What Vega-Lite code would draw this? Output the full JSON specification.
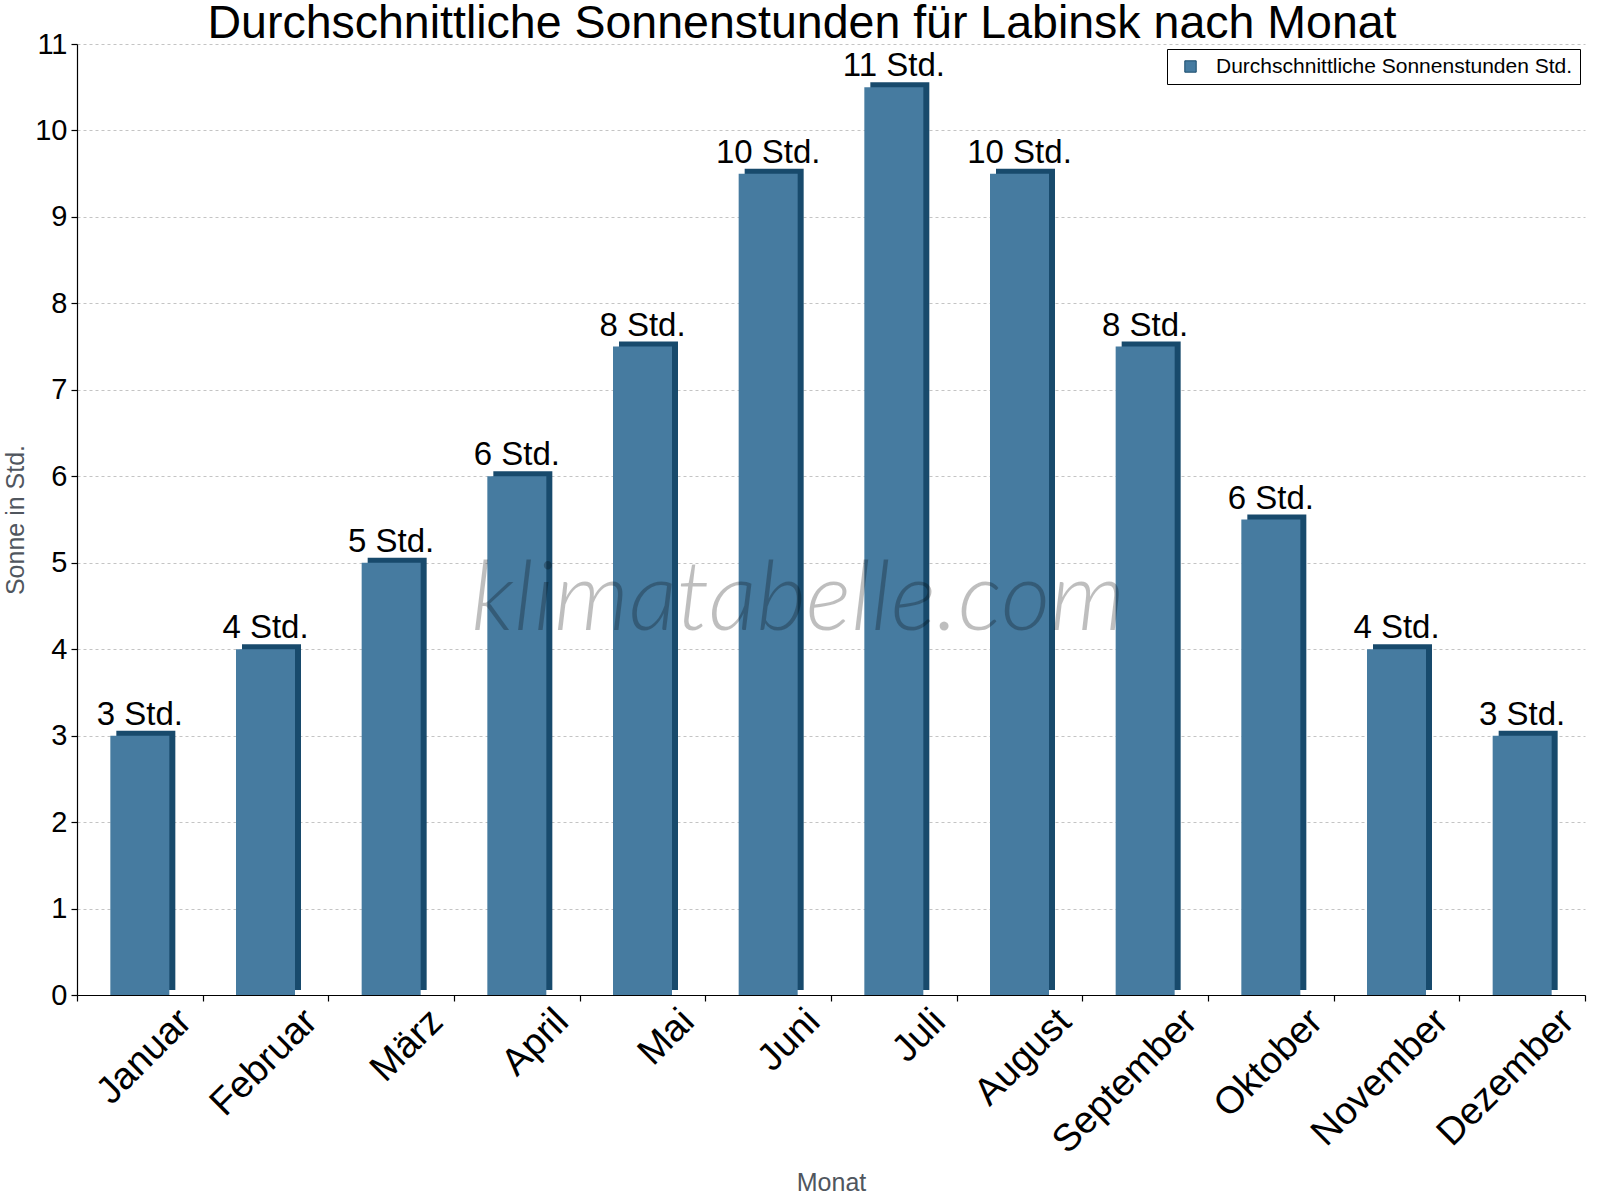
{
  "$schema": "https://vega.github.io/schema/vega-lite/v6.json",
  "autosize": "none",
  "padding": {"left": 77, "top": 44, "right": 15, "bottom": 205},
  "width": 1508,
  "height": 951,
  "background": "#ffffff",
  "config": {
    "font": "Liberation Sans",
    "view": {"stroke": null}
  },
  "title": {
    "text": "Durchschnittliche Sonnenstunden für Labinsk nach Monat",
    "fontSize": 46.5,
    "fontWeight": "normal",
    "color": "#000000",
    "anchor": "middle",
    "baseline": "bottom",
    "offset": -64,
    "dx": -29
  },
  "data": {
    "values": [
      {"monat": "Januar", "sonne": 3, "label": "3 Std."},
      {"monat": "Februar", "sonne": 4, "label": "4 Std."},
      {"monat": "März", "sonne": 5, "label": "5 Std."},
      {"monat": "April", "sonne": 6, "label": "6 Std."},
      {"monat": "Mai", "sonne": 7.5, "label": "8 Std."},
      {"monat": "Juni", "sonne": 9.5, "label": "10 Std."},
      {"monat": "Juli", "sonne": 10.5, "label": "11 Std."},
      {"monat": "August", "sonne": 9.5, "label": "10 Std."},
      {"monat": "September", "sonne": 7.5, "label": "8 Std."},
      {"monat": "Oktober", "sonne": 5.5, "label": "6 Std."},
      {"monat": "November", "sonne": 4, "label": "4 Std."},
      {"monat": "Dezember", "sonne": 3, "label": "3 Std."}
    ]
  },
  "encoding": {
    "x": {
      "field": "monat",
      "type": "nominal",
      "sort": null,
      "scale": {"paddingInner": 0, "paddingOuter": 0},
      "axis": {
        "title": "Monat",
        "titleFontSize": 25,
        "titleFontWeight": "normal",
        "titleColor": "#50565e",
        "titleBaseline": "top",
        "titleY": 175,
        "labelAngle": -45,
        "labelAlign": "right",
        "labelBaseline": "top",
        "labelFontSize": 38,
        "labelColor": "#000000",
        "labelPadding": 1,
        "labelOffset": 32,
        "labelLimit": 400,
        "labelOverlap": false,
        "labelBound": false,
        "domainColor": "#000000",
        "domainWidth": 1.2,
        "tickColor": "#000000",
        "tickWidth": 1.2,
        "tickBand": "extent",
        "tickSize": 6,
        "grid": false
      }
    },
    "y": {
      "field": "sonne",
      "type": "quantitative",
      "scale": {"domain": [0, 11], "nice": false},
      "axis": {
        "title": "Sonne in Std.",
        "titleFontSize": 25,
        "titleFontWeight": "normal",
        "titleColor": "#50565e",
        "titleBaseline": "middle",
        "titleX": -62,
        "values": [0, 1, 2, 3, 4, 5, 6, 7, 8, 9, 10, 11],
        "labelFontSize": 29,
        "labelColor": "#000000",
        "labelPadding": 4,
        "domainColor": "#000000",
        "domainWidth": 1.2,
        "tickColor": "#000000",
        "tickWidth": 1.2,
        "tickSize": 6,
        "grid": true,
        "gridColor": "#c4c4c4",
        "gridDash": [3, 3]
      }
    }
  },
  "layer": [
    {
      "mark": {"type": "bar", "width": 59, "xOffset": 6, "yOffset": -5, "color": "#184a6c"}
    },
    {
      "mark": {"type": "bar", "width": 59},
      "encoding": {
        "color": {
          "datum": "Durchschnittliche Sonnenstunden Std.",
          "scale": {"range": ["#467ba0"]},
          "legend": {
            "title": null,
            "orient": "top-right",
            "offset": 5,
            "strokeColor": "#000000",
            "padding": 7,
            "fillColor": "#ffffff",
            "symbolType": "square",
            "symbolSize": 130,
            "symbolOffset": 6,
            "symbolStrokeColor": "#184a6c",
            "symbolStrokeWidth": 1,
            "labelFontSize": 21,
            "labelOffset": 15,
            "labelLimit": 600,
            "labelColor": "#000000"
          }
        }
      }
    },
    {
      "mark": {"type": "text", "baseline": "alphabetic", "dy": -11, "fontSize": 33, "color": "#000000"},
      "encoding": {
        "text": {"field": "label"}
      }
    },
    {
      "transform": [{"filter": "datum.monat === 'Juni'"}],
      "mark": {"type": "text", "font": "Lato", "fontSize": 96, "fontStyle": "italic", "fontWeight": 300, "color": "#000000", "opacity": 0.25, "baseline": "alphabetic", "align": "center", "dx": 30},
      "encoding": {
        "y": {"datum": 4.22},
        "text": {"value": "klimatabelle.com"}
      }
    }
  ]
}
